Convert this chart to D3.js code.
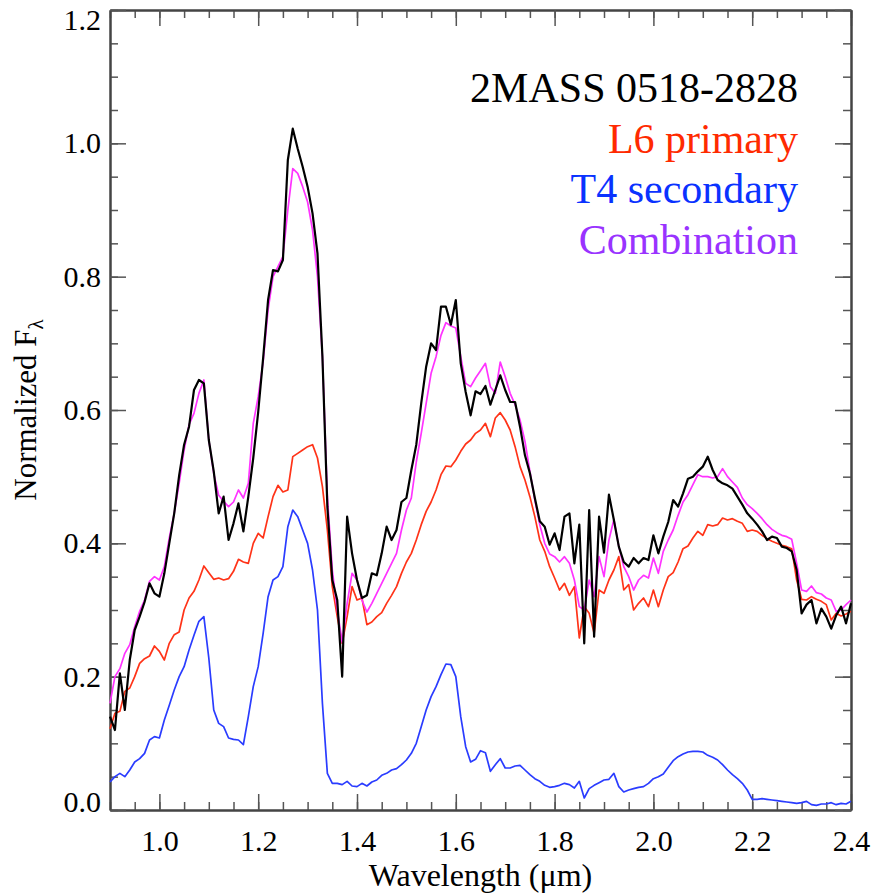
<!DOCTYPE html>
<html>
<head>
<meta charset="utf-8">
<script src="https://cdn.jsdelivr.net/npm/d3@7"></script>
<style>
    body { margin: 0; background: #fff; }
    svg { display: block; }
    svg text { font-family: Liberation Serif, Times New Roman, Times, DejaVu Serif, serif !important; }
</style>
</head>
<body>
<div id="chart"></div>
<script>
// wavelength grid of the spectra (microns), 0.90 .. 2.40 every 0.01
const wavelength = d3.range(151).map(i => +(0.9 + i * 0.01).toFixed(2));

// L6 primary template
const primaryL6 = [
    0.122, 0.145, 0.148, 0.178, 0.183, 0.200, 0.220, 0.227, 0.231, 0.246,
    0.238, 0.225, 0.250, 0.263, 0.267, 0.300, 0.318, 0.328, 0.345, 0.366,
    0.356, 0.346, 0.348, 0.345, 0.347, 0.358, 0.376, 0.372, 0.370, 0.400,
    0.415, 0.408, 0.440, 0.470, 0.487, 0.477, 0.480, 0.530, 0.535, 0.540,
    0.545, 0.548, 0.528, 0.485, 0.420, 0.335, 0.290, 0.250, 0.290, 0.335,
    0.315, 0.318, 0.278, 0.282, 0.290, 0.296, 0.310, 0.322, 0.335, 0.355,
    0.372, 0.385, 0.405, 0.428, 0.448, 0.462, 0.480, 0.503, 0.516, 0.515,
    0.525, 0.538, 0.549, 0.555, 0.565, 0.570, 0.580, 0.560, 0.588, 0.596,
    0.585, 0.570, 0.545, 0.515, 0.495, 0.470, 0.440, 0.405, 0.388, 0.365,
    0.348, 0.330, 0.340, 0.322, 0.335, 0.258, 0.305, 0.295, 0.265, 0.330,
    0.325, 0.345, 0.360, 0.380, 0.330, 0.338, 0.300, 0.310, 0.318, 0.305,
    0.330, 0.305, 0.330, 0.350, 0.356, 0.372, 0.392, 0.396, 0.408, 0.418,
    0.412, 0.428, 0.426, 0.428, 0.438, 0.435, 0.437, 0.433, 0.430, 0.418,
    0.420, 0.418, 0.412, 0.407, 0.403, 0.400, 0.397, 0.395, 0.392, 0.345,
    0.316, 0.315, 0.320, 0.316, 0.313, 0.308, 0.285, 0.295, 0.291, 0.294,
    0.298
];

// T4 secondary template
const secondaryT4 = [
    0.042, 0.050, 0.055, 0.050, 0.060, 0.072, 0.077, 0.085, 0.105, 0.110,
    0.108, 0.135, 0.157, 0.180, 0.200, 0.215, 0.240, 0.262, 0.283, 0.290,
    0.228, 0.150, 0.130, 0.125, 0.108, 0.106, 0.105, 0.098, 0.140, 0.185,
    0.215, 0.265, 0.320, 0.345, 0.350, 0.365, 0.425, 0.450, 0.440, 0.420,
    0.400, 0.360, 0.300, 0.160, 0.055, 0.040, 0.040, 0.038, 0.043, 0.036,
    0.035, 0.040, 0.036, 0.042, 0.045, 0.052, 0.055, 0.060, 0.062, 0.068,
    0.075, 0.085, 0.100, 0.125, 0.150, 0.170, 0.185, 0.203, 0.219, 0.218,
    0.200, 0.140, 0.095, 0.072, 0.076, 0.089, 0.086, 0.058, 0.068, 0.077,
    0.063, 0.063, 0.066, 0.067, 0.060, 0.053, 0.047, 0.043, 0.037, 0.034,
    0.035, 0.037, 0.040, 0.038, 0.033, 0.043, 0.018, 0.032, 0.037, 0.041,
    0.045, 0.046, 0.055, 0.035, 0.027, 0.030, 0.032, 0.034, 0.035, 0.040,
    0.047, 0.050, 0.054, 0.064, 0.074, 0.080, 0.084, 0.087, 0.088, 0.088,
    0.087, 0.082, 0.079, 0.075, 0.068, 0.060, 0.053, 0.047, 0.040, 0.030,
    0.016, 0.016, 0.017, 0.016, 0.015, 0.014, 0.013, 0.012, 0.011, 0.010,
    0.011, 0.013, 0.008, 0.007, 0.009, 0.009, 0.011, 0.008, 0.010, 0.009,
    0.013
];

// composite model
const combination = [
    0.160, 0.200, 0.212, 0.235, 0.248, 0.275, 0.298, 0.315, 0.343, 0.350,
    0.345, 0.365, 0.408, 0.445, 0.490, 0.540, 0.578, 0.595, 0.625, 0.645,
    0.555, 0.505, 0.472, 0.463, 0.455, 0.462, 0.480, 0.468, 0.490, 0.580,
    0.620, 0.672, 0.750, 0.800, 0.815, 0.830, 0.900, 0.962, 0.955, 0.935,
    0.912, 0.870, 0.800, 0.680, 0.470, 0.360, 0.300, 0.252, 0.310, 0.355,
    0.345, 0.315, 0.297, 0.310, 0.325, 0.340, 0.355, 0.370, 0.385, 0.420,
    0.450, 0.468, 0.522, 0.565, 0.610, 0.655, 0.680, 0.712, 0.731, 0.726,
    0.723, 0.680, 0.640, 0.635, 0.648, 0.659, 0.670, 0.635, 0.625, 0.672,
    0.650, 0.625, 0.608, 0.585, 0.553, 0.508, 0.465, 0.428, 0.400, 0.384,
    0.380, 0.372, 0.380, 0.370, 0.345, 0.305, 0.300, 0.345, 0.320, 0.380,
    0.350, 0.405, 0.436, 0.395, 0.365, 0.350, 0.330, 0.345, 0.352, 0.348,
    0.378, 0.355, 0.388, 0.405, 0.420, 0.442, 0.462, 0.473, 0.488, 0.503,
    0.500, 0.500, 0.498, 0.500, 0.512, 0.500, 0.492, 0.484, 0.468, 0.458,
    0.452, 0.445, 0.437, 0.428, 0.421, 0.416, 0.412, 0.410, 0.406, 0.370,
    0.330, 0.328, 0.336, 0.326, 0.324, 0.318, 0.315, 0.298, 0.300, 0.308,
    0.315
];

// observed spectrum of 2MASS 0518-2828
const observed = [
    0.140, 0.120, 0.205, 0.150, 0.225, 0.270, 0.290, 0.312, 0.340, 0.325,
    0.320, 0.355, 0.400, 0.445, 0.502, 0.548, 0.575, 0.630, 0.645, 0.640,
    0.555, 0.508, 0.445, 0.470, 0.405, 0.430, 0.460, 0.418, 0.470, 0.528,
    0.597, 0.678, 0.765, 0.810, 0.808, 0.825, 0.975, 1.022, 0.992, 0.965,
    0.935, 0.895, 0.835, 0.680, 0.455, 0.345, 0.315, 0.200, 0.440, 0.385,
    0.345, 0.318, 0.322, 0.355, 0.352, 0.385, 0.425, 0.405, 0.420, 0.462,
    0.468, 0.510, 0.548, 0.610, 0.665, 0.700, 0.690, 0.755, 0.755, 0.728,
    0.765, 0.670, 0.627, 0.592, 0.628, 0.624, 0.636, 0.608, 0.630, 0.652,
    0.630, 0.612, 0.612, 0.575, 0.532, 0.505, 0.468, 0.433, 0.425, 0.398,
    0.415, 0.390, 0.440, 0.445, 0.370, 0.428, 0.250, 0.450, 0.260, 0.440,
    0.386, 0.473, 0.435, 0.395, 0.372, 0.365, 0.378, 0.370, 0.378, 0.375,
    0.412, 0.385, 0.410, 0.432, 0.465, 0.455, 0.475, 0.497, 0.500, 0.508,
    0.515, 0.530, 0.510, 0.495, 0.490, 0.487, 0.482, 0.470, 0.458, 0.445,
    0.437, 0.428, 0.418, 0.405, 0.410, 0.408, 0.395, 0.393, 0.388, 0.360,
    0.295, 0.308, 0.315, 0.280, 0.302, 0.290, 0.272, 0.292, 0.305, 0.280,
    0.310
];

const xMajorTicks = [1.0, 1.2, 1.4, 1.6, 1.8, 2.0, 2.2, 2.4];
const yMajorTicks = [0.0, 0.2, 0.4, 0.6, 0.8, 1.0, 1.2];
const legendLabels = ['2MASS 0518-2828', 'L6 primary', 'T4 secondary', 'Combination'];
const legendColors = ['#000000', '#ff2a00', '#0a32ff', '#9933ff'];

const serif = 'Liberation Serif, Times New Roman, Times, DejaVu Serif, serif';
const width = 876;
const height = 893;
const plot = { left: 110, right: 851, top: 10, bottom: 810 };

const svg = d3.select('#chart')
    .append('svg')
    .attr('width', width)
    .attr('height', height)
    .style('font-family', serif);

const x = d3.scaleLinear().domain([0.9, 2.4]).range([plot.left, plot.right]);
const y = d3.scaleLinear().domain([0, 1.2]).range([plot.bottom, plot.top]);

const xMinor = d3.range(0.9, 2.4001, 0.05);
const yMinor = d3.range(0, 1.2001, 0.05);

function styleAxis(g) {
    g.attr('font-family', null).attr('font-size', 30);
    g.selectAll('.tick line').attr('stroke', '#555').attr('stroke-width', 1.5);
    g.select('.domain').attr('stroke', '#444').attr('stroke-width', 2);
    g.selectAll('text').attr('fill', '#000').style('font-family', serif);
}

// minor ticks, all four sides, pointing inward
svg.append('g').attr('transform', `translate(0,${plot.bottom})`)
    .call(d3.axisBottom(x).tickValues(xMinor).tickSize(-8).tickFormat('').tickSizeOuter(0)).call(styleAxis);
svg.append('g').attr('transform', `translate(0,${plot.top})`)
    .call(d3.axisTop(x).tickValues(xMinor).tickSize(-8).tickFormat('').tickSizeOuter(0)).call(styleAxis);
svg.append('g').attr('transform', `translate(${plot.left},0)`)
    .call(d3.axisLeft(y).tickValues(yMinor).tickSize(-8).tickFormat('').tickSizeOuter(0)).call(styleAxis);
svg.append('g').attr('transform', `translate(${plot.right},0)`)
    .call(d3.axisRight(y).tickValues(yMinor).tickSize(-8).tickFormat('').tickSizeOuter(0)).call(styleAxis);

// major ticks
const fmt = d3.format('.1f');
svg.append('g').attr('transform', `translate(0,${plot.bottom})`)
    .call(d3.axisBottom(x).tickValues(xMajorTicks).tickSize(-16).tickPadding(20).tickFormat(fmt).tickSizeOuter(0))
    .call(styleAxis);
svg.append('g').attr('transform', `translate(0,${plot.top})`)
    .call(d3.axisTop(x).tickValues(xMajorTicks).tickSize(-16).tickFormat('').tickSizeOuter(0)).call(styleAxis);
const yAxisG = svg.append('g').attr('transform', `translate(${plot.left},0)`)
    .call(d3.axisLeft(y).tickValues(yMajorTicks).tickSize(-16).tickPadding(9).tickFormat(fmt).tickSizeOuter(0))
    .call(styleAxis);
svg.append('g').attr('transform', `translate(${plot.right},0)`)
    .call(d3.axisRight(y).tickValues(yMajorTicks).tickSize(-16).tickFormat('').tickSizeOuter(0)).call(styleAxis);

// end labels sit a little inside the frame
yAxisG.selectAll('.tick text')
    .attr('y', d => d === 1.2 ? 10 : (d === 0 ? -8 : 0));

// spectra
const line = d3.line()
    .x((d, i) => x(wavelength[i]))
    .y(d => y(d));

const series = [
    { values: secondaryT4, color: '#2a3cff', width: 1.7 },
    { values: primaryL6, color: '#ff3318', width: 1.7 },
    { values: combination, color: '#ff33ff', width: 1.7 },
    { values: observed, color: '#000000', width: 2.2 }
];

svg.append('g')
    .selectAll('path')
    .data(series)
    .enter()
    .append('path')
    .attr('d', d => line(d.values))
    .attr('fill', 'none')
    .attr('stroke', d => d.color)
    .attr('stroke-width', d => d.width)
    .attr('stroke-linejoin', 'round');

// legend
svg.append('g')
    .selectAll('text')
    .data(legendLabels)
    .enter()
    .append('text')
    .attr('x', 798)
    .attr('y', (d, i) => 102 + i * 50.5)
    .attr('text-anchor', 'end')
    .attr('font-size', 42)
    .style('font-family', serif)
    .attr('fill', (d, i) => legendColors[i])
    .text(d => d);

// axis titles
svg.append('text')
    .attr('x', (plot.left + plot.right) / 2)
    .attr('y', 886)
    .attr('text-anchor', 'middle')
    .attr('font-size', 32)
    .style('font-family', serif)
    .text('Wavelength (μm)');

const yTitle = svg.append('text')
    .attr('transform', `translate(36,${(plot.top + plot.bottom) / 2}) rotate(-90)`)
    .attr('text-anchor', 'middle')
    .attr('font-size', 31)
    .style('font-family', serif);
yTitle.append('tspan').text('Normalized F');
yTitle.append('tspan').attr('dy', 7).attr('font-size', 21).text('λ');
</script>
</body>
</html>
